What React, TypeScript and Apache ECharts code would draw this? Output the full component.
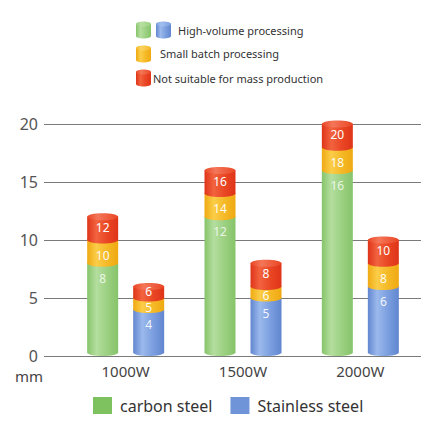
import React, { useEffect, useRef } from "react";
import * as echarts from "echarts";

// Laser power levels
const categories = ["1000W", "1500W", "2000W"];
const yTicks = { min: 0, max: 20, interval: 5 };

// Cumulative thickness (mm) reached by each processing level
const carbonHighVolume = [8, 12, 16];
const carbonSmallBatch = [10, 14, 18];
const carbonNotSuitable = [12, 16, 20];

const stainlessHighVolume = [4, 5, 6];
const stainlessSmallBatch = [5, 6, 8];
const stainlessNotSuitable = [6, 8, 10];

const levelNames = [
  "High-volume processing",
  "Small batch processing",
  "Not suitable for mass production",
];

type Palette = { dark: string; light: string; mid: string; cap: string; label: string };

const GREEN: Palette = { dark: "#86c46a", light: "#b4de9e", mid: "#9bd081", cap: "#b8e0a2", label: "rgba(255,255,255,0.78)" };
const BLUE: Palette = { dark: "#6286cf", light: "#9bb9ec", mid: "#7a9edf", cap: "#a3bff0", label: "rgba(255,255,255,0.92)" };
const YELLOW: Palette = { dark: "#efa912", light: "#fbcd48", mid: "#f5b927", cap: "#fbd360", label: "rgba(255,255,255,0.95)" };
const RED: Palette = { dark: "#df3419", light: "#f2633e", mid: "#e94624", cap: "#f47659", label: "#ffffff" };

const BAR_W = 31;
const OFFSET = 23;
const RY = 3.5;
const FONT = "'Noto Sans', 'Open Sans', sans-serif";

function sideGradient(p: Palette) {
  return new echarts.graphic.LinearGradient(0, 0, 1, 0, [
    { offset: 0, color: p.dark },
    { offset: 0.3, color: p.light },
    { offset: 0.65, color: p.mid },
    { offset: 1, color: p.dark },
  ]);
}

function capGradient(p: Palette) {
  return new echarts.graphic.LinearGradient(0, 0, 1, 0, [
    { offset: 0, color: p.mid },
    { offset: 0.35, color: p.cap },
    { offset: 1, color: p.mid },
  ]);
}

// Draws one stacked cylinder per category, levels given as cumulative values
function cylinderRenderer(side: number, base: Palette) {
  const palettes = [base, YELLOW, RED];
  return (params: any, api: any) => {
    const idx = api.value(0);
    const levels = [api.value(1), api.value(2), api.value(3)];
    const [cx0, y0] = api.coord([idx, 0]);
    const cx = cx0 + side * OFFSET;
    const x0 = cx - BAR_W / 2;
    const shapes: any[] = [];
    const labels: any[] = [];
    let prevY = y0 - RY;
    levels.forEach((v: number, i: number) => {
      const yTop = api.coord([idx, v])[1];
      const fill = sideGradient(palettes[i]);
      shapes.push({
        type: "rect",
        shape: { x: x0, y: yTop, width: BAR_W, height: prevY - yTop },
        style: { fill },
      });
      shapes.push({
        type: "ellipse",
        shape: { cx, cy: prevY, rx: BAR_W / 2, ry: RY },
        style: { fill },
      });
      const segH = prevY - yTop;
      const isTop = i === levels.length - 1;
      const offset = Math.min(15, segH / 2 + (isTop ? -1 : 3.5));
      labels.push({
        type: "text",
        style: {
          text: String(v),
          x: cx,
          y: yTop + offset,
          align: "center",
          verticalAlign: "middle",
          fill: palettes[i].label,
          fontSize: 12,
          lineHeight: 12,
          fontFamily: FONT,
        },
      });
      prevY = yTop;
    });
    shapes.push({
      type: "ellipse",
      shape: { cx, cy: prevY, rx: BAR_W / 2, ry: RY },
      style: { fill: capGradient(RED) },
    });
    return { type: "group", children: shapes.concat(labels) };
  };
}

function legendIcon(x: number, y: number, p: Palette) {
  return {
    type: "group",
    x,
    y,
    children: [
      { type: "rect", shape: { x: 0, y: 3, width: 15, height: 12 }, style: { fill: sideGradient(p) } },
      { type: "ellipse", shape: { cx: 7.5, cy: 15, rx: 7.5, ry: 2.5 }, style: { fill: sideGradient(p) } },
      { type: "ellipse", shape: { cx: 7.5, cy: 3, rx: 7.5, ry: 2.5 }, style: { fill: capGradient(p) } },
    ],
  };
}

function legendText(x: number, y: number, text: string) {
  return {
    type: "text",
    style: { text, x, y, verticalAlign: "middle", fill: "#333", fontSize: 11, fontFamily: FONT },
  };
}

export default function App() {
  const ref = useRef<HTMLDivElement>(null);

  useEffect(() => {
    document.body.style.margin = "0";
    if (!ref.current) return;
    const chart = echarts.init(ref.current, undefined, { renderer: "svg" });

    const carbonData = categories.map((_, i) => [i, carbonHighVolume[i], carbonSmallBatch[i], carbonNotSuitable[i]]);
    const stainlessData = categories.map((_, i) => [i, stainlessHighVolume[i], stainlessSmallBatch[i], stainlessNotSuitable[i]]);

    chart.setOption({
      animation: false,
      backgroundColor: "#ffffff",
      textStyle: { fontFamily: FONT },
      grid: [
        { left: 44, right: 20, top: 124, bottom: 81 },
        { left: 67, right: 22, top: 124, bottom: 81 },
      ],
      xAxis: [
        { type: "category", gridIndex: 0, data: categories, show: false },
        {
          type: "category",
          gridIndex: 1,
          data: categories,
          axisLine: { show: false },
          axisTick: { show: false },
          axisLabel: { color: "#444", fontSize: 15, margin: 7, fontFamily: FONT },
        },
      ],
      yAxis: [
        {
          type: "value",
          gridIndex: 0,
          ...yTicks,
          axisLine: { show: false },
          axisTick: { show: false },
          axisLabel: { color: "#555", fontSize: 16, margin: 6, fontFamily: FONT },
          splitLine: { lineStyle: { color: "#7a7a7a", width: 1.2 } },
        },
        { type: "value", gridIndex: 1, ...yTicks, show: false, splitLine: { show: false } },
      ],
      legend: {
        left: 93,
        top: 397,
        padding: 0,
        itemWidth: 19,
        itemHeight: 17,
        itemGap: 18,
        icon: "rect",
        selectedMode: false,
        textStyle: { fontSize: 16, color: "#333", fontFamily: FONT, padding: [0, 0, 0, 3] },
        data: ["carbon steel", "Stainless steel"],
      },
      series: [
        {
          name: "carbon steel",
          type: "custom",
          xAxisIndex: 1,
          yAxisIndex: 1,
          itemStyle: { color: "#7ec15f" },
          encode: { x: 0, y: [1, 2, 3] },
          renderItem: cylinderRenderer(-1, GREEN),
          data: carbonData,
        },
        {
          name: "Stainless steel",
          type: "custom",
          xAxisIndex: 1,
          yAxisIndex: 1,
          itemStyle: { color: "#6f95d8" },
          encode: { x: 0, y: [1, 2, 3] },
          renderItem: cylinderRenderer(1, BLUE),
          data: stainlessData,
        },
      ],
      graphic: [
        legendIcon(136, 21, GREEN),
        legendIcon(156, 21, BLUE),
        legendText(178, 30, levelNames[0]),
        legendIcon(136, 45, YELLOW),
        legendText(160, 53, levelNames[1]),
        legendIcon(136, 69, RED),
        legendText(153, 78, levelNames[2]),
        {
          type: "text",
          style: { text: "mm", x: 15, y: 376, verticalAlign: "middle", fill: "#444", fontSize: 15, fontFamily: FONT },
        },
      ],
    });

    return () => chart.dispose();
  }, []);

  return <div ref={ref} style={{ width: 441, height: 437 }} />;
}
